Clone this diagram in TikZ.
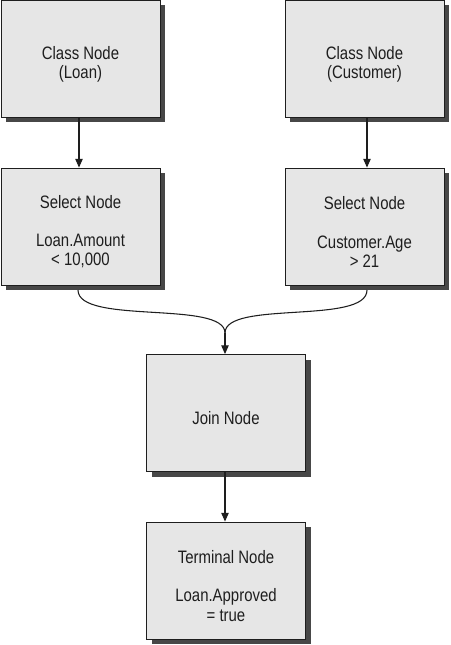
\documentclass[tikz,border=0pt]{standalone}
\usepackage{fontspec}
\setmainfont{Liberation Sans}[FakeStretch=0.83]
\usetikzlibrary{arrows.meta,shadows}
\definecolor{boxfill}{HTML}{E6E6E6}
\definecolor{shade}{HTML}{474747}
\definecolor{ink}{HTML}{1E1E1E}
\newcommand\mytopgap{\rule{0pt}{18pt}}
\tikzset{
  rbox/.style={draw=ink, line width=0.6pt, fill=boxfill, minimum width=119.25pt, minimum height=87.75pt,
    inner sep=0pt, align=center, text=ink, font=\fontsize{13.5pt}{14.3pt}\selectfont,
    drop shadow={shadow xshift=3.75pt, shadow yshift=-3.75pt, fill=shade, opacity=1}},
  conn/.style={draw=ink, line width=0.8pt},
  arr/.style={conn, -{Triangle[length=6.5pt,width=5.5pt]}}
}
\begin{document}
\begin{tikzpicture}[x=0.75pt,y=-0.75pt]
\useasboundingbox (0,0) rectangle (450,645);
\node[rbox] (cl) at (80.5,59) {\mytopgap Class Node\\(Loan)};
\node[rbox] (cc) at (364.5,59) {\mytopgap Class Node\\(Customer)};
\node[rbox] (sl) at (80.5,226.5) {\mytopgap Select Node\\[14.3pt]Loan.Amount\\< 10,000};
\node[rbox] (sc) at (364.5,226.5) {\mytopgap Select Node\\[14.3pt]Customer.Age\\> 21};
\node[rbox] (j) at (226,413) {\mytopgap Join Node};
\node[rbox] (t) at (226,580.5) {\mytopgap Terminal Node\\[14.3pt]Loan.Approved\\= true};
\coordinate (m) at (225,333);
\draw[arr] (cl.south -| 79,0) -- (sl.north -| 79,0);
\draw[arr] (cc.south -| 367,0) -- (sc.north -| 367,0);
\draw[conn] (78,290) .. controls (78,325) and (225,300) .. (m);
\draw[conn] (367,290) .. controls (367,325) and (225,300) .. (m);
\draw[arr] (m) -- (j.north -| m);
\draw[arr] (j.south -| 225,0) -- (t.north -| 225,0);
\end{tikzpicture}
\end{document}
